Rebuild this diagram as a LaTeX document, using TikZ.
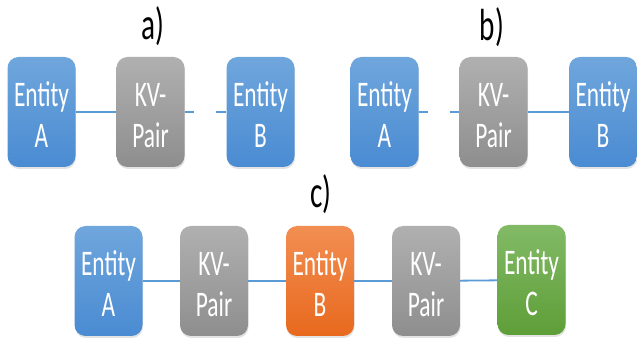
\documentclass[tikz,border=0pt]{standalone}
\usepackage{fontspec}
\setmainfont{Carlito}[FakeStretch=0.65]
\usepackage{tikz}
\usetikzlibrary{shadows}
\definecolor{entblueT}{HTML}{6FA6DC}
\definecolor{entblueB}{HTML}{4A8BD2}
\definecolor{kvgrayT}{HTML}{B0B0B0}
\definecolor{kvgrayB}{HTML}{8E8E8E}
\definecolor{entorangeT}{HTML}{F28E52}
\definecolor{entorangeB}{HTML}{E8691E}
\definecolor{entgreenT}{HTML}{82BA66}
\definecolor{entgreenB}{HTML}{5E9E38}
\definecolor{link}{HTML}{5B9BD5}
\tikzset{
  box/.style={rounded corners=11pt, minimum width=68pt, minimum height=110pt,
    inner sep=0pt, text=white, align=center, font=\fontsize{36}{41}\selectfont,
    text height=72pt, text depth=0pt,
    drop shadow={shadow xshift=0.6pt, shadow yshift=-2pt, opacity=0.22}},
  ent/.style={box, top color=entblueT, bottom color=entblueB},
  entB/.style={box, top color=entorangeT, bottom color=entorangeB},
  entC/.style={box, top color=entgreenT, bottom color=entgreenB},
  kv/.style={box, top color=kvgrayT, bottom color=kvgrayB},
  conn/.style={draw=link, line width=1.8pt},
  broken/.style={conn, dash pattern=on 9pt off 22pt on 12pt off 22pt},
  tag/.style={font=\fontsize{45}{45}\selectfont, text=black},
}

\begin{document}
\begin{tikzpicture}[x=1pt, y=-1pt]
  \useasboundingbox (0,0) rectangle (637,344);

  % a)
  \node[tag] (la) at (152.5,26) {a)};
  \node[ent] (aA) at (41.5,112) {Entity\\A};
  \node[kv]  (aK) at (150.5,112) {KV-\\Pair};
  \node[ent] (aB) at (260.5,112) {Entity\\B};
  \draw[conn] (aA) -- (aK);
  \draw[broken] (aK) -- (aB);

  % b)
  \node[tag] (lb) at (492,27) {b)};
  \node[ent] (bA) at (384.5,112) {Entity\\A};
  \node[kv]  (bK) at (493.5,112) {KV-\\Pair};
  \node[ent] (bB) at (603,112) {Entity\\B};
  \draw[broken] (bA) -- (bK);
  \draw[conn] (bK) -- (bB);

  % c)
  \node[tag] (lc) at (321,194) {c)};
  \node[ent]  (cA) at (108.5,281) {Entity\\A};
  \node[kv]   (cK1) at (214,281) {KV-\\Pair};
  \node[entB] (cB) at (320,281) {Entity\\B};
  \node[kv]   (cK2) at (426,281) {KV-\\Pair};
  \node[entC] (cC) at (531.5,280) {Entity\\C};
  \draw[conn] (cA) -- (cK1);
  \draw[conn] (cK1) -- (cB);
  \draw[conn] (cB) -- (cK2);
  \draw[conn] (cK2) -- (cC);
\end{tikzpicture}
\end{document}
